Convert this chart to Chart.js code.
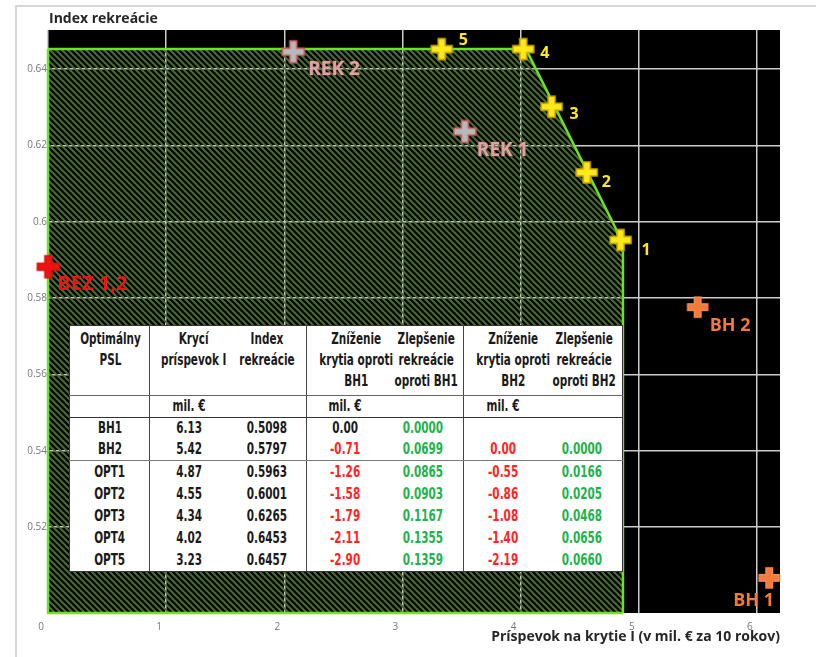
<!DOCTYPE html>
<html>
<head>
<meta charset="utf-8">
<script src="https://cdn.jsdelivr.net/npm/chart.js@4.4.1/dist/chart.umd.min.js"></script>
<style>
  html, body { margin: 0; padding: 0; background: #fff; }
  #wrap { position: relative; width: 816px; height: 657px; overflow: hidden; }
  #frame { position: absolute; left: 15px; top: 5px; width: 820px; height: 700px;
           border-left: 2px solid #d6d6d6; border-top: 2px solid #d6d6d6; }
  #c { position: absolute; left: 0; top: 0; }
  #tbl { position: absolute; left: 69px; top: 325px; width: 553px; table-layout: fixed;
         border-collapse: collapse; background: #fff; border: 1.5px solid #333;
         font-family: "DejaVu Sans Condensed", "DejaVu Sans", sans-serif;
         font-weight: bold; font-size: 15.5px; color: #1a1a1a; }
  #tbl td { text-align: center; padding: 0; line-height: 21px; white-space: nowrap; }
  #tbl td span { display: inline-block; transform: scaleX(0.75); transform-origin: 50% 50%; }
  #tbl tr.head td { vertical-align: top; padding-top: 3px; height: 66px; border-bottom: 1.5px solid #666; }
  #tbl tr.units td { height: 21px; border-bottom: 1.5px solid #333; }
  #tbl tr.bh td { height: 21px; }
  #tbl tr.bh.last td { border-bottom: 1.5px solid #777; }
  #tbl tr.opt td { height: 22px; }
  #tbl td.sep { border-right: 1.5px solid #444; }
  .neg { color: #ff2424; }
  .pos { color: #22b24c; }
</style>
</head>
<body>
<div id="wrap">
  <div id="frame"></div>
  <canvas id="c" width="816" height="657"></canvas>
  <table id="tbl"></table>
</div>
<script>
// axes
const xTicks = [0, 1, 2, 3, 4, 5, 6];
const yTicks = [0.52, 0.54, 0.56, 0.58, 0.60, 0.62, 0.64];
const xTitle = 'Príspevok na krytie I (v mil. € za 10 rokov)';
const yTitle = 'Index rekreácie';

// hatched region (efficient frontier)
const frontierX = [0, 4.045, 4.81, 4.866, 4.866];
const frontierY = [0.6452, 0.6452, 0.5979, 0.5919, 0.4975];
const edgeX = [0, 0, 4.866];
const edgeY = [0.6452, 0.4975, 0.4975];

// markers as plotted
const optNames = ['1', '2', '3', '4', '5'];
const optX = [4.846, 4.559, 4.262, 4.022, 3.332];
const optY = [0.5952, 0.6129, 0.6301, 0.6452, 0.6452];
const rekNames = ['REK 1', 'REK 2'];
const rekX = [3.528, 2.076];
const rekY = [0.6236, 0.6445];
const bezNames = ['BEZ 1,2'];
const bezX = [0.003];
const bezY = [0.5882];
const bhNames = ['BH 1', 'BH 2'];
const bhX = [6.104, 5.498];
const bhY = [0.5067, 0.5776];

// table
const headers = ['Optimálny<br>PSL', 'Krycí<br>príspevok I', 'Index<br>rekreácie',
  'Zníženie<br>krytia oproti<br>BH1', 'Zlepšenie<br>rekreácie<br>oproti BH1',
  'Zníženie<br>krytia oproti<br>BH2', 'Zlepšenie<br>rekreácie<br>oproti BH2'];
const units = ['', 'mil. €', '', 'mil. €', '', 'mil. €', ''];
const psl = ['BH1', 'BH2', 'OPT1', 'OPT2', 'OPT3', 'OPT4', 'OPT5'];
const krytie = [6.13, 5.42, 4.87, 4.55, 4.34, 4.02, 3.23];
const indexRek = [0.5098, 0.5797, 0.5963, 0.6001, 0.6265, 0.6453, 0.6457];
const znizBH1 = [0.00, -0.71, -1.26, -1.58, -1.79, -2.11, -2.90];
const zlepBH1 = [0.0000, 0.0699, 0.0865, 0.0903, 0.1167, 0.1355, 0.1359];
const znizBH2 = [null, 0.00, -0.55, -0.86, -1.08, -1.40, -2.19];
const zlepBH2 = [null, 0.0000, 0.0166, 0.0205, 0.0468, 0.0656, 0.0660];

function buildTable() {
  const colW = [80, 78, 79, 77, 80, 78, 81];
  const isSep = i => i === 0 || i === 2 || i === 4;
  const cell = (t, cls, i) => {
    const classes = [cls, isSep(i) ? 'sep' : ''].filter(Boolean).join(' ');
    return `<td${classes ? ` class="${classes}"` : ''}>${t === '' ? '' : `<span>${t}</span>`}</td>`;
  };
  let html = '<colgroup>' + colW.map(w => `<col style="width:${w}px">`).join('') + '</colgroup>';
  html += '<tr class="head">' + headers.map((h, i) => cell(h, '', i)).join('') + '</tr>';
  html += '<tr class="units">' + units.map((u, i) => cell(u, '', i)).join('') + '</tr>';
  psl.forEach((name, r) => {
    const cls = r < 2 ? ('bh' + (r === 1 ? ' last' : '')) : 'opt';
    const cells = [
      [name, ''], [krytie[r].toFixed(2), ''], [indexRek[r].toFixed(4), ''],
      [znizBH1[r].toFixed(2), r === 0 ? '' : 'neg'], [zlepBH1[r].toFixed(4), 'pos'],
      [znizBH2[r] === null ? '' : znizBH2[r].toFixed(2), 'neg'],
      [zlepBH2[r] === null ? '' : zlepBH2[r].toFixed(4), 'pos']
    ];
    html += `<tr class="${cls}">` + cells.map(([t, c], i) => cell(t, c, i)).join('') + '</tr>';
  });
  document.getElementById('tbl').innerHTML = html;
}
buildTable();

function pts(xs, ys) { return xs.map((x, i) => ({ x: x, y: ys[i] })); }

function plus(fill, stroke, size, arm) {
  const c = document.createElement('canvas');
  c.width = c.height = size + 4;
  const g = c.getContext('2d');
  const m = (size + 4) / 2, h = size / 2, a = arm / 2;
  g.beginPath();
  g.moveTo(m - a, m - h); g.lineTo(m + a, m - h); g.lineTo(m + a, m - a);
  g.lineTo(m + h, m - a); g.lineTo(m + h, m + a); g.lineTo(m + a, m + a);
  g.lineTo(m + a, m + h); g.lineTo(m - a, m + h); g.lineTo(m - a, m + a);
  g.lineTo(m - h, m + a); g.lineTo(m - h, m - a); g.lineTo(m - a, m - a);
  g.closePath();
  g.fillStyle = fill; g.fill();
  g.lineWidth = 1.5; g.strokeStyle = stroke; g.stroke();
  return c;
}

const canvas = document.getElementById('c');
const ctx = canvas.getContext('2d');

function hatch() {
  const s = 6;
  const t = document.createElement('canvas');
  t.width = t.height = s;
  const g = t.getContext('2d');
  g.strokeStyle = '#4a6e30';
  g.lineWidth = 2;
  g.beginPath();
  g.moveTo(-1, -1); g.lineTo(s + 1, s + 1);
  g.moveTo(s - 2, -2); g.lineTo(s + 2, 2);
  g.moveTo(-2, s - 2); g.lineTo(2, s + 2);
  g.stroke();
  return ctx.createPattern(t, 'repeat');
}

const plotBg = {
  id: 'plotBg',
  beforeDraw(chart) {
    const { ctx, chartArea: a } = chart;
    ctx.save();
    ctx.fillStyle = '#000';
    ctx.fillRect(a.left, a.top, a.right - a.left, a.bottom - a.top);
    ctx.restore();
  }
};

const pointLabels = {
  id: 'pointLabels',
  afterDatasetsDraw(chart) {
    const ctx = chart.ctx;
    chart.data.datasets.forEach((ds, i) => {
      if (!ds.texts) return;
      const meta = chart.getDatasetMeta(i);
      ctx.save();
      ctx.font = ds.textFont;
      ctx.textAlign = 'left';
      ctx.textBaseline = 'middle';
      meta.data.forEach((el, j) => {
        const [dx, dy] = ds.textOffsets[j];
        if (ds.textStroke) {
          ctx.lineWidth = 1.2;
          ctx.strokeStyle = ds.textStroke;
          ctx.strokeText(ds.texts[j], el.x + dx, el.y + dy);
        }
        ctx.fillStyle = ds.textColor;
        ctx.fillText(ds.texts[j], el.x + dx, el.y + dy);
      });
      ctx.restore();
    });
  }
};

const titles = {
  id: 'titles',
  afterDraw(chart) {
    const { ctx, chartArea: a } = chart;
    ctx.save();
    ctx.fillStyle = '#262626';
    ctx.font = 'bold 14px "Open Sans"';
    ctx.textBaseline = 'middle';
    ctx.textAlign = 'left';
    ctx.fillText(yTitle, a.left + 1, 19);
    ctx.textAlign = 'right';
    ctx.fillText(xTitle, a.right, 637);
    ctx.restore();
  }
};

const markerBase = { showLine: false, clip: false, pointRadius: 12, pointHoverRadius: 12, order: 0 };

new Chart(ctx, {
  type: 'scatter',
  data: {
    datasets: [
      Object.assign({}, markerBase, {
        data: pts(optX, optY), pointStyle: plus('#ffe81c', '#c9a800', 21, 7),
        texts: optNames, textColor: '#ffe81c', textFont: 'bold 16px "Open Sans"',
        textOffsets: [[21, 10], [15, 10], [18, 8], [17, 4], [17, -9]]
      }),
      Object.assign({}, markerBase, {
        data: pts(rekX, rekY), pointStyle: plus('#b9b9b9', '#c85a5a', 22, 7),
        texts: rekNames, textColor: '#d8a4a4', textStroke: 'rgba(170,70,70,0.6)', textFont: 'bold 19px "Open Sans"',
        textOffsets: [[12, 19], [15, 18]]
      }),
      Object.assign({}, markerBase, {
        data: pts(bezX, bezY), pointStyle: plus('#ee1212', '#e01010', 22, 7),
        texts: bezNames, textColor: '#f01414', textFont: 'bold 20px "Open Sans"',
        textOffsets: [[9, 18]]
      }),
      Object.assign({}, markerBase, {
        data: pts(bhX, bhY), pointStyle: plus('#f47a3c', '#f58a50', 20, 6.5),
        texts: bhNames, textColor: '#f47a3c', textFont: 'bold 18px "Open Sans"',
        textOffsets: [[-36, 23], [12, 19]]
      }),
      {
        data: pts(frontierX, frontierY), showLine: true, fill: 'start',
        backgroundColor: hatch(), borderColor: '#6ee124', borderWidth: 2.5,
        pointRadius: 0, pointHoverRadius: 0, tension: 0, clip: false, order: 2
      },
      {
        data: pts(edgeX, edgeY), showLine: true, fill: false,
        borderColor: '#6ee124', borderWidth: 2.5,
        pointRadius: 0, pointHoverRadius: 0, tension: 0, clip: false, order: 1
      }
    ]
  },
  options: {
    responsive: false,
    animation: false,
    layout: { padding: { left: 15, right: 36, top: 30, bottom: 24 } },
    plugins: { legend: { display: false }, tooltip: { enabled: false }, title: { display: false } },
    scales: {
      x: {
        type: 'linear', min: 0, max: 6.195,
        afterBuildTicks: s => { s.ticks = xTicks.map(v => ({ value: v })); },
        afterFit: s => { s.height = 20; },
        grid: { color: '#cdcdcd', lineWidth: 1.5, drawTicks: false },
        border: { display: false },
        ticks: { color: '#777', font: { size: 10, family: 'Open Sans' }, padding: 8, labelOffset: -7, maxRotation: 0,
                 callback: v => String(v) }
      },
      y: {
        type: 'linear', min: 0.4975, max: 0.6502,
        afterBuildTicks: s => { s.ticks = yTicks.map(v => ({ value: v })); },
        afterFit: s => { s.width = 33; },
        grid: { color: '#cdcdcd', lineWidth: 1.5, drawTicks: false },
        border: { display: false },
        ticks: { color: '#777', font: { size: 10, family: 'Open Sans' }, padding: 1,
                 callback: v => String(+v.toFixed(2)) }
      }
    }
  },
  plugins: [plotBg, pointLabels, titles]
});
</script>
</body>
</html>
